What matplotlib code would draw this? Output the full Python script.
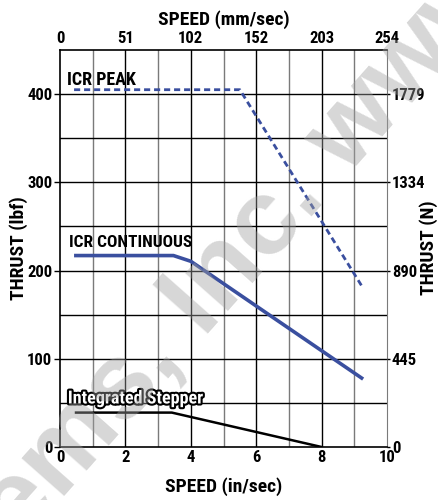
import matplotlib.pyplot as plt
import matplotlib.patheffects as pe
from matplotlib import font_manager

# Dados (velocidade em in/sec, força em lbf)
peak_speed = [0.43, 5.5, 9.27]
peak_thrust = [405, 405, 180]

cont_speed = [0.43, 3.47, 4.0, 9.27]
cont_thrust = [217, 217, 210.5, 77]

step_speed = [0.49, 3.42, 8.0]
step_thrust = [39, 39, 0]

in_ticks = [0, 2, 4, 6, 8, 10]
mm_labels = ['0', '51', '102', '152', '203', '254']
lbf_ticks = [0, 100, 200, 300, 400]
n_labels = ['0', '445', '890', '1334', '1779']

# Escolher uma fonte estreita, se houver
nomes = {f.name for f in font_manager.fontManager.ttflist}
preferidas = ['Liberation Sans Narrow', 'DejaVu Sans Condensed', 'Roboto Condensed',
              'Open Sans Condensed', 'Noto Sans Condensed', 'Roboto', 'Liberation Sans']
fonte = [f for f in preferidas if f in nomes][:1] + ['DejaVu Sans']
plt.rcParams['font.family'] = fonte
plt.rcParams['font.weight'] = 'bold'
plt.rcParams['font.stretch'] = 'condensed'
plt.rcParams['axes.labelweight'] = 'bold'

fig = plt.figure(figsize=(4.38, 5.0), dpi=100)
ax = fig.add_axes([60/438, 1 - 447/500, 327/438, 397/500])
ax.set_facecolor('none')

# Grade
for x in range(1, 10):
    cor = '#7a7a7a' if x % 2 else 'black'
    ax.axvline(x, color=cor, linewidth=1.0, zorder=1)
for y in range(50, 450, 50):
    ax.axhline(y, color='black', linewidth=1.0, zorder=1)

# Marca d'água (semi-transparente, por cima da grade)
fig.text(246/438, 1 - 248/500, 'ems, Inc. www', fontsize=78, color='#a0a0a0',
         alpha=0.42, family=['Liberation Sans', 'DejaVu Sans'], stretch='normal',
         weight='heavy', rotation=48.5, ha='center', va='center', zorder=2)

ax.plot(peak_speed, peak_thrust, color='#3a4f9f', linewidth=2.0,
        linestyle=(0, (2.2, 1.4)), zorder=3)
ax.plot(cont_speed, cont_thrust, color='#3a4f9f', linewidth=2.6,
        solid_capstyle='butt', zorder=3)
ax.plot(step_speed, step_thrust, color='black', linewidth=1.8, zorder=3)

ax.text(0.21, 416, 'ICR PEAK', fontsize=13, va='center', ha='left', zorder=4)
ax.text(0.27, 232, 'ICR CONTINUOUS', fontsize=12.5, va='center', ha='left', zorder=4)
ax.text(0.24, 55, 'Integrated Stepper', fontsize=13, va='center', ha='left',
        color='white', zorder=4,
        path_effects=[pe.withStroke(linewidth=3, foreground='black')])

ax.set_xlim(0, 10)
ax.set_ylim(0, 450)
ax.set_xticks(in_ticks)
ax.set_yticks(lbf_ticks)
ax.tick_params(axis='y', labelsize=12, length=4.5, width=1, pad=1)
ax.tick_params(axis='x', labelsize=12, length=0, pad=2)
for s in ['left', 'top', 'bottom']:
    ax.spines[s].set_linewidth(1.2)
ax.spines['right'].set_color('#7a7a7a')

# Eixo superior (mm/sec)
ax_top = ax.twiny()
ax_top.set_xlim(0, 10)
ax_top.set_xticks(in_ticks)
ax_top.set_xticklabels(mm_labels)
ax_top.tick_params(labelsize=12, length=0, pad=3)

# Eixo direito (N)
ax_r = ax.twinx()
ax_r.set_ylim(0, 450)
ax_r.set_yticks(lbf_ticks)
ax_r.set_yticklabels(n_labels)
ax_r.tick_params(labelsize=12, length=2.5, width=1, pad=1)
for a in (ax_top, ax_r):
    for s in a.spines.values():
        s.set_visible(False)

# Títulos dos eixos
fig.text(224/438, 1 - 487/500, 'SPEED (in/sec)', fontsize=14, ha='center', va='center')
fig.text(224/438, 1 - 20/500, 'SPEED (mm/sec)', fontsize=14, ha='center', va='center')
fig.text(19/438, 1 - 248/500, 'THRUST (lbf)', fontsize=14, rotation=90,
         ha='center', va='center')
fig.text(429/438, 1 - 248/500, 'THRUST (N)', fontsize=14, rotation=90,
         ha='center', va='center')

fig.savefig('out.png', dpi=100)
